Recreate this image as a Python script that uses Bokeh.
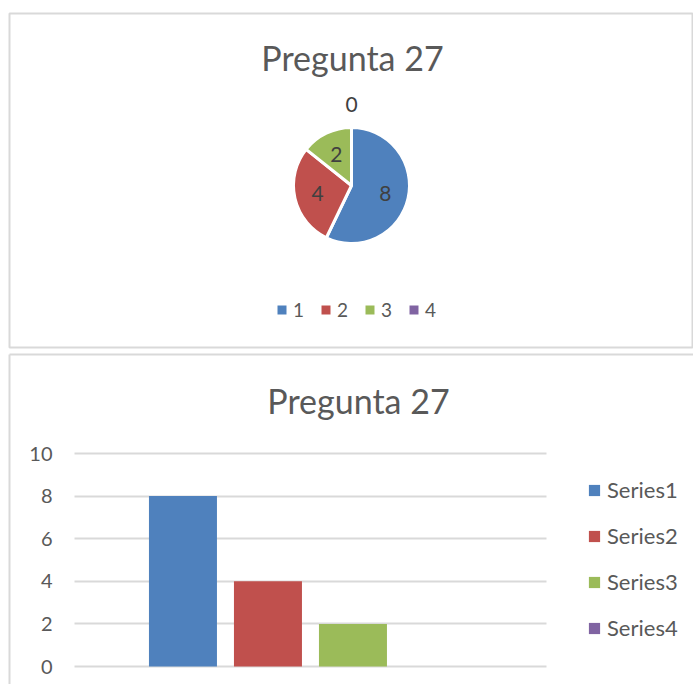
import numpy as np
from bokeh.plotting import figure
from bokeh.models import (Range1d, Legend, LegendItem, Label, ColumnDataSource,
                          FixedTicker, LinearAxis, Grid)
from bokeh.core.properties import value
from bokeh.embed import file_html
from bokeh.resources import INLINE

# ---------------- data ----------------
title_text = "Pregunta 27"
pie_categories = ["1", "2", "3", "4"]
pie_values = [8, 4, 2, 0]
bar_series = ["Series1", "Series2", "Series3", "Series4"]
bar_values = [8, 4, 2, 0]
y_ticks = [0, 2, 4, 6, 8, 10]

# ---------------- style / layout (canvas pixels, origin bottom-left) ----------------
colors = ["#4F81BD", "#C0504D", "#9BBB59", "#8064A2"]
FONT = "Lato"
TXT = "#595959"
BORDER = "#d9d9d9"
W, H = 693, 684

PIE_CX, PIE_CY, PIE_R = 351, 499, 58
# bar chart plot area: 472 x 213 px, left edge at canvas x=74, baseline at canvas y=18
BAR_PX_X = 85.0                 # pixels per bar slot
BAR_PX_Y = 21.3                 # pixels per value unit
GROUP_LO, GROUP_HI = -1.276, 4.276
BAR_LEFT_PX, BAR_BASE_PX = 74, 18

p = figure(width=W, height=H, output_backend="svg", toolbar_location=None,
           x_range=Range1d(0, W), y_range=Range1d(0, H),
           x_axis_location=None, y_axis_location=None, min_border=0,
           outline_line_color=None)
p.title.visible = False
p.grid.visible = False

bx0 = GROUP_LO - BAR_LEFT_PX / BAR_PX_X
by0 = -BAR_BASE_PX / BAR_PX_Y
p.extra_x_ranges = {"bar": Range1d(bx0, bx0 + W / BAR_PX_X)}
p.extra_y_ranges = {"bar": Range1d(by0, by0 + H / BAR_PX_Y)}

# ---------------- panel borders ----------------
p.quad(left=9, right=692, bottom=337, top=671, fill_color=None,
       line_color=BORDER, line_width=2)
p.multi_line(xs=[[9, 9], [9, W]], ys=[[0, 330], [330, 330]],
             line_color=BORDER, line_width=2)

# ================= pie chart =================
vals = np.array(pie_values, dtype=float)
total = vals.sum()
cum_after = np.cumsum(vals)
cum_before = cum_after - vals
start = np.pi / 2 - 2 * np.pi * cum_before / total
end = np.pi / 2 - 2 * np.pi * cum_after / total
mid = (start + end) / 2
dist = np.where(vals > 0, 0.6 * PIE_R, 1.4 * PIE_R)
radius = np.where(vals > 0, PIE_R, 0.0)

pie_src = ColumnDataSource(dict(cat=pie_categories, val=pie_values,
                                start=start, end=end, color=colors, r=radius,
                                lx=PIE_CX + dist * np.cos(mid),
                                ly=PIE_CY + dist * np.sin(mid),
                                lbl=[str(v) for v in pie_values]))
wedges = p.wedge(x=PIE_CX, y=PIE_CY, radius="r", start_angle="start",
                 end_angle="end", direction="clock", source=pie_src,
                 fill_color="color", line_color="white", line_width=3)
p.text(x="lx", y="ly", text="lbl", source=pie_src, text_align="center",
       text_baseline="middle", text_font=value(FONT), text_font_size="21px",
       text_color="#404040")

p.add_layout(Label(x=352, y=627, text=title_text, text_align="center",
                   text_baseline="middle", text_font=FONT,
                   text_font_size="34px", text_color=TXT))

top_legend = Legend(items=[LegendItem(label=c, renderers=[wedges], index=i)
                           for i, c in enumerate(pie_categories)],
                    location=(274, 363), orientation="horizontal",
                    glyph_width=15, glyph_height=15, label_standoff=4,
                    label_width=0, label_height=24, spacing=14, padding=0,
                    margin=0, border_line_color=None, background_fill_alpha=0,
                    label_text_font=FONT, label_text_font_size="19px",
                    label_text_color=TXT)
p.add_layout(top_legend)

# ================= bar chart =================
p.add_layout(Label(x=358, y=284, text=title_text, text_align="center",
                   text_baseline="middle", text_font=FONT,
                   text_font_size="34px", text_color=TXT))

grid = Grid(dimension=1, ticker=FixedTicker(ticks=y_ticks),
            x_range_name="bar", y_range_name="bar",
            cross_bounds=(GROUP_LO, GROUP_HI),
            grid_line_color=BORDER, grid_line_width=2)
p.add_layout(grid)

yax = LinearAxis(x_range_name="bar", y_range_name="bar",
                 fixed_location=GROUP_LO, ticker=FixedTicker(ticks=y_ticks),
                 axis_line_color=None, major_tick_line_color=None,
                 minor_tick_line_color=None, major_label_standoff=16,
                 major_label_text_font=FONT, major_label_text_font_size="20px",
                 major_label_text_color=TXT)
p.add_layout(yax, "left")

bar_src = ColumnDataSource(dict(x=list(range(len(bar_series))), top=bar_values,
                                color=colors, name=bar_series))
bars = p.vbar(x="x", top="top", bottom=0, width=0.8, source=bar_src,
              fill_color="color", line_color=None,
              x_range_name="bar", y_range_name="bar")

bot_legend = Legend(items=[LegendItem(label=s, renderers=[bars], index=i)
                           for i, s in enumerate(bar_series)],
                    location=(587, 43), orientation="vertical",
                    glyph_width=14, glyph_height=14, label_standoff=6,
                    label_width=0, label_height=26, spacing=19, padding=0,
                    margin=0, border_line_color=None, background_fill_alpha=0,
                    label_text_font=FONT, label_text_font_size="22px",
                    label_text_color=TXT)
p.add_layout(bot_legend)

open("out.html", "w").write(file_html(p, INLINE))
